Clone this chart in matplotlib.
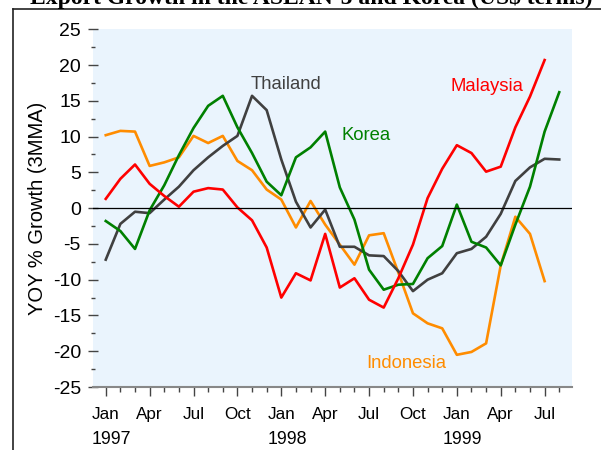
import numpy as np
import matplotlib
matplotlib.use('Agg')
import matplotlib.pyplot as plt
from matplotlib.lines import Line2D
import matplotlib.transforms as mtransforms

# months since Jan 1997
tick_labels = ['Jan', 'Apr', 'Jul', 'Oct', 'Jan', 'Apr', 'Jul', 'Oct', 'Jan', 'Apr', 'Jul']
years = ['1997', '1998', '1999']

indonesia = [10.2, 10.8, 10.7, 5.9, 6.4, 7.1, 10.1, 9.1, 10.1, 6.6, 5.3, 2.6, 1.2, -2.7, 1.0, -2.3,
             -5.1, -7.9, -3.8, -3.5, -9.0, -14.7, -16.1, -16.8, -20.5, -20.1, -18.9, -8.0, -1.2, -3.6, -10.2]
malaysia = [1.3, 4.1, 6.1, 3.4, 1.7, 0.2, 2.3, 2.8, 2.6, 0.1, -1.7, -5.5, -12.5, -9.1, -10.1, -3.6,
            -11.1, -9.8, -12.8, -13.9, -9.8, -5.1, 1.4, 5.5, 8.8, 7.7, 5.1, 5.8, 11.3, 15.6, 20.7]
korea = [-1.8, -3.2, -5.7, -0.3, 3.2, 7.4, 11.2, 14.3, 15.7, 11.3, 7.7, 3.7, 1.8, 7.1, 8.5, 10.7,
         2.9, -1.6, -8.6, -11.4, -10.7, -10.6, -7.0, -5.3, 0.5, -4.7, -5.5, -8.0, -2.3, 3.0, 10.7, 16.2]
thailand = [-7.2, -2.2, -0.5, -0.7, 1.2, 3.0, 5.3, 7.1, 8.7, 10.1, 15.7, 13.7, 6.8, 0.9, -2.7, -0.2,
            -5.4, -5.4, -6.6, -6.7, -8.8, -11.6, -10.0, -9.1, -6.3, -5.7, -4.0, -0.8, 3.8, 5.7, 6.9, 6.8]

plt.rcParams['font.family'] = ['Liberation Sans', 'DejaVu Sans']
plt.rcParams['axes.unicode_minus'] = False

fig = plt.figure(figsize=(6.01, 4.5), dpi=100)
ax = fig.add_axes([0.1543, 0.14, 0.9517 - 0.1543, 0.9349 - 0.14])
ax.set_facecolor('#eaf4fd')

lw = 1.9
ax.plot(range(len(indonesia)), indonesia, color='#ff8c00', lw=lw)
ax.plot(range(len(thailand)), thailand, color='#404040', lw=lw)
ax.plot(range(len(korea)), korea, color='#008000', lw=lw)
ax.plot(range(len(malaysia)), malaysia, color='#ff0000', lw=lw)
ax.axhline(0, color='black', lw=0.9)

ax.text(9.9, 17.3, 'Thailand', color='#404040', fontsize=13.3, va='center')
ax.text(16.1, 10.2, 'Korea', color='#008000', fontsize=13.3, va='center')
ax.text(23.6, 17.0, 'Malaysia', color='#ff0000', fontsize=13.3, va='center')
ax.text(17.8, -21.7, 'Indonesia', color='#ff8c00', fontsize=13.3, va='center')

ax.set_xlim(-0.89, 31.87)
ax.set_ylim(-25, 25)

ax.set_yticks(np.arange(-25, 26, 5))
ax.set_yticks(np.arange(-22.5, 25, 5), minor=True)
ax.set_xticks(np.arange(0, 31, 3))
ax.set_xticklabels(tick_labels)
ax.set_xticks(np.arange(0, 32, 1), minor=True)

ax.tick_params(axis='y', which='major', direction='inout', length=7, width=1, color='#444444',
               labelsize=14, pad=5)
ax.tick_params(axis='y', which='minor', direction='inout', length=3, width=1, color='#444444')
ax.tick_params(axis='x', which='major', direction='out', length=6.5, width=1, color='#444444',
               labelsize=12.3, pad=8)
ax.tick_params(axis='x', which='minor', direction='out', length=3.5, width=1, color='#444444')

for s in ['top', 'right', 'left']:
    ax.spines[s].set_visible(False)
ax.spines['bottom'].set_color('#888888')
ax.spines['bottom'].set_linewidth(1.5)

ax.set_ylabel('YOY % Growth (3MMA)', fontsize=14.5, labelpad=4)

# year labels under Jan ticks
trans = mtransforms.blended_transform_factory(ax.transData, fig.transFigure)
for k, yr in enumerate(years):
    ax.text(12 * k - 0.95, 1 - 439 / 450, yr, transform=trans, fontsize=12.8,
            ha='left', va='center')

# page frame and cut-off title
fig.add_artist(Line2D([12.5 / 601, 12.5 / 601], [0, 1 - 9 / 450], color='#222222', lw=1.2))
fig.add_artist(Line2D([12.5 / 601, 1], [1 - 9 / 450, 1 - 9 / 450], color='#222222', lw=1.2))
fig.text(311 / 601, 1 - 4 / 450, 'Export Growth in the ASEAN-5 and Korea (US$ terms)',
         family='Liberation Serif', fontweight='bold', fontsize=17, ha='center', va='baseline')

fig.savefig('out.png', dpi=100)
